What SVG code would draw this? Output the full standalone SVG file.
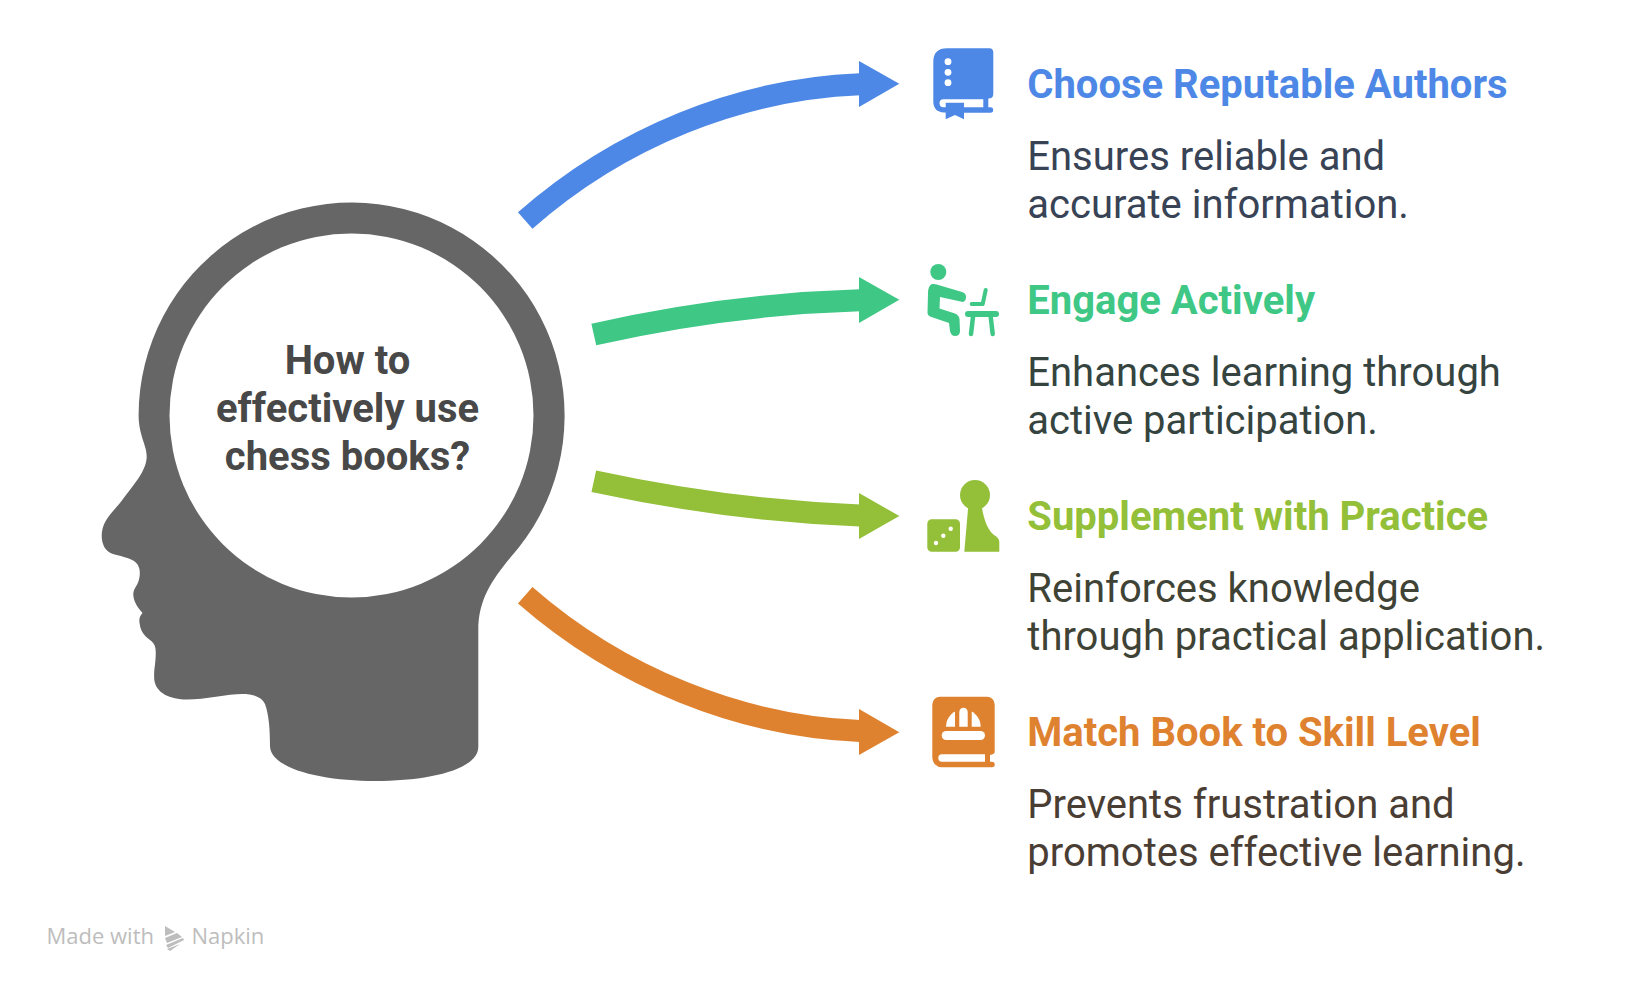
<svg xmlns="http://www.w3.org/2000/svg" width="1643" height="992" viewBox="0 0 1643 992">
<style>
text{font-family:Roboto,"Liberation Sans",sans-serif}
.h{font-size:40px;font-weight:700}
.b{font-size:40px;font-weight:400}
.c{font-size:40px;font-weight:700;fill:#484848;text-anchor:middle}
.m{font-size:22px;fill:#bdbdbd;font-family:"Open Sans","Noto Sans",sans-serif}
.s{fill:none;stroke-width:22}
.ln{fill:none;stroke-linecap:round}
</style>
<rect width="1643" height="992" fill="#fff"/>
<g id="head">
<path fill="#666" d="M138.6,415C138.6,435 146.7,445 146.7,456C146.7,470 136,482 120,503C110,515 101.7,522 101.7,536C101.7,545 106,552 113,554C120,556 130,558 134,561C140,565 140.5,572 139.3,578C138,586 133,588 133.3,595C133.5,602 139,609 142.5,613C139,617 139,620 139.7,624C141,633 146,637 150,640C155,644 156,647 155.7,655C155.5,665 153.5,670 154.3,680C156,693 170,699.5 187,699.5C205,699.5 228,694 242,694C254,694 262,697 265,704C269,715 270,730 270,746.7C272,770 325,781 375,781C428,781 478.3,770 478.3,746.7L478.3,630C478.3,600 492,580 510,558A213,213 0 1 0 138.6,415Z"/>
<circle cx="351.5" cy="415.5" r="182" fill="#fff"/>
<text class="c" x="347.5" y="374">How to</text>
<text class="c" x="347.5" y="422">effectively use</text>
<text class="c" x="347.5" y="470">chess books?</text>
</g>
<g id="connectors">
<path class="s" stroke="#4e88e7" d="M525.2,220.5C620,137 740,89 860,84.3"/>
<polygon fill="#4e88e7" points="859,61 899.3,83.7 859,107"/>
<path class="s" stroke="#3ec785" d="M593.8,334.5C680,315 770,303 860,300.3"/>
<polygon fill="#3ec785" points="859,277 899.3,299.7 859,323"/>
<path class="s" stroke="#93bf39" d="M593.8,481.3C680,500 770,512 860,515.5"/>
<polygon fill="#93bf39" points="859,493 899.3,516 859,539"/>
<path class="s" stroke="#df8230" d="M525.2,595.2C620,678 740,726 860,731"/>
<polygon fill="#df8230" points="859,709 899.3,732.3 859,755"/>
</g>
<g id="node-authors">
<path fill="#4e88e7" d="M947,48.3H989.5A4,4 0 0 1 993.3,52V94Q993.3,98.5 988.3,98.5V107.3H990.5A2.7,2.7 0 0 1 990.5,112.7H964V119.3L955,115L945.7,119.3V112.5H944Q933.3,112 933.3,101V62Q933.3,48.3 947,48.3Z"/>
<path fill="#fff" d="M943.5,99.3H983.3V107.3H964V102.7H945.7V107.3H943.5A4,4 0 0 1 943.5,99.3Z"/>
<g fill="#fff"><circle cx="948" cy="61.7" r="3.4"/><circle cx="948" cy="72.3" r="3.4"/><circle cx="948" cy="82.7" r="3.4"/></g>
<text class="h" x="1027.3" y="98" fill="#4e88e7">Choose Reputable Authors</text>
<text class="b" x="1027.3" y="170" fill="#384356">Ensures reliable and</text>
<text class="b" x="1027.3" y="218" fill="#384356">accurate information.</text>
</g>
<g id="node-engage">
<circle cx="938.3" cy="272" r="8" fill="#3ec785"/>
<path fill="#3ec785" d="M932,284Q928,286 928,293L927.5,313Q927.5,315 930,316.5L949,323L950,331Q951,336 955,336Q960,336 960,331L959.5,319Q959,315 955,313.5L939.5,308.5L940,297L963,302Q966,301 966,297Q966,293 962,292L940,285.5Q936,283.5 932,284Z"/>
<g class="ln" stroke="#3ec785">
<path stroke-width="4" stroke-linejoin="round" d="M985.7,290L982.7,304H971.7"/>
<path stroke-width="6" d="M968,314H996"/>
<path stroke-width="4.5" d="M973,316.7L971,334M990.7,316.7L992.7,334"/>
</g>
<text class="h" x="1027.3" y="314" fill="#3ec785">Engage Actively</text>
<text class="b" x="1027.3" y="386" fill="#35443f">Enhances learning through</text>
<text class="b" x="1027.3" y="434" fill="#35443f">active participation.</text>
</g>
<g id="node-supplement">
<circle cx="975" cy="495" r="15" fill="#93bf39"/>
<path fill="#93bf39" d="M968.3,506L964.3,551.7H999.3V541.7Q999.3,538 994,535Q985,528 981.7,506Z"/>
<rect x="927.3" y="519.3" width="32.7" height="32.4" rx="4.5" fill="#93bf39"/>
<g fill="#fff"><circle cx="950.7" cy="528.7" r="2.2"/><circle cx="943.3" cy="535.7" r="2.2"/><circle cx="936" cy="543" r="2.2"/></g>
<text class="h" x="1027.3" y="530" fill="#93bf39">Supplement with Practice</text>
<text class="b" x="1027.3" y="602" fill="#3f4336">Reinforces knowledge</text>
<text class="b" x="1027.3" y="650" fill="#3f4336">through practical application.</text>
</g>
<g id="node-match">
<path fill="#df8230" d="M940,696.7H987A7.7,7.7 0 0 1 994.7,704.4V752Q994.7,754 990,755V761.7H992A2.8,2.8 0 0 1 992,767.3H942A9.7,9.7 0 0 1 932.3,757.6V704.4A7.7,7.7 0 0 1 940,696.7Z"/>
<path fill="#fff" d="M942,754.3H985V761.7H942A3.7,3.7 0 0 1 942,754.3Z"/>
<path fill="#fff" d="M946,726.7A17.3,17.3 0 0 1 980.7,726.7Z"/>
<rect x="955" y="706" width="16.7" height="21" fill="#df8230"/>
<path fill="#fff" d="M959.3,726.7V712A4.2,4.2 0 0 1 967.7,712V726.7Z"/>
<rect x="941.7" y="731" width="43.3" height="9" rx="4.5" fill="#fff"/>
<text class="h" x="1027.3" y="746" fill="#df8230">Match Book to Skill Level</text>
<text class="b" x="1027.3" y="818" fill="#4a3e34">Prevents frustration and</text>
<text class="b" x="1027.3" y="866" fill="#4a3e34">promotes effective learning.</text>
</g>
<g id="watermark">
<text class="m" x="46.5" y="944">Made with</text>
<g fill="#bdbdbd"><polygon points="165,926 175,932 165,936"/><polygon points="165,938 177,933 182,937 167,943"/><polygon points="183,938 184,940 168,948 166,945"/><polygon points="180,944 170,951 167,949"/></g>
<text class="m" x="191.5" y="944">Napkin</text>
</g>
</svg>
